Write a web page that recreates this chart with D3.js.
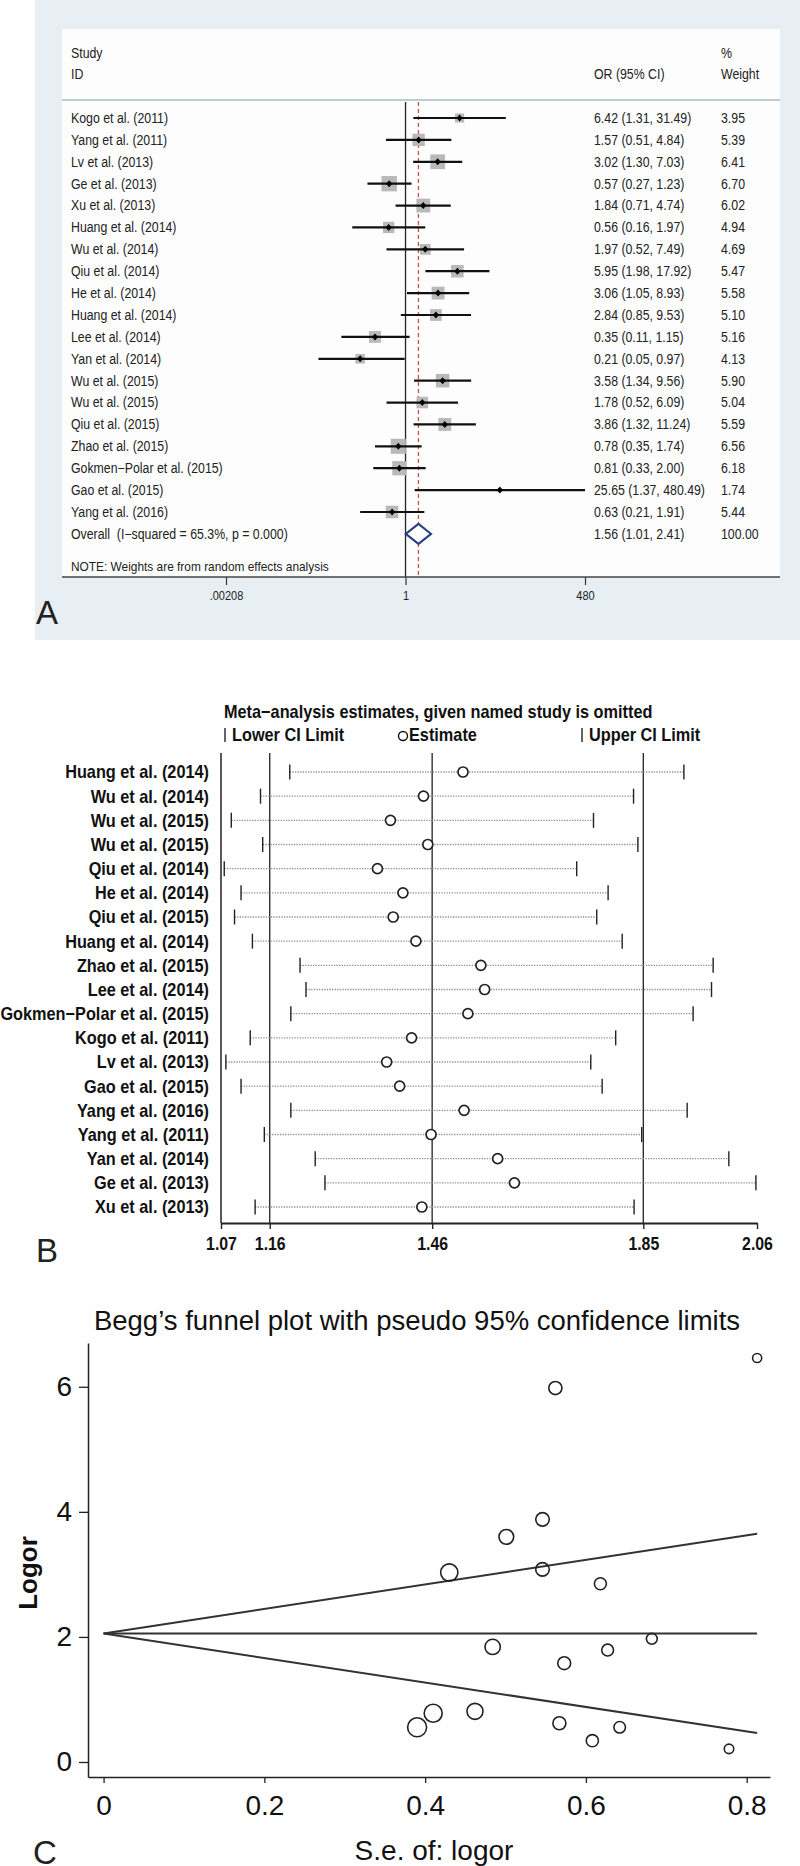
<!DOCTYPE html>
<html>
<head>
<meta charset="utf-8">
<script src="https://cdn.jsdelivr.net/npm/d3@7"></script>
<style>
  html, body { margin: 0; padding: 0; background: #ffffff; }
  svg { display: block; }
  text { white-space: pre; }
</style>
</head>
<body>
<svg id="fig" width="800" height="1866"></svg>
<script>
// ---------------- Panel A data (forest plot) ----------------
const studiesA = ["Kogo et al. (2011)", "Yang et al. (2011)", "Lv et al. (2013)", "Ge et al. (2013)",
  "Xu et al. (2013)", "Huang et al. (2014)", "Wu et al. (2014)", "Qiu et al. (2014)", "He et al. (2014)",
  "Huang et al. (2014)", "Lee et al. (2014)", "Yan et al. (2014)", "Wu et al. (2015)", "Wu et al. (2015)",
  "Qiu et al. (2015)", "Zhao et al. (2015)", "Gokmen\u2212Polar et al. (2015)", "Gao et al. (2015)", "Yang et al. (2016)"];
const orA    = [6.42, 1.57, 3.02, 0.57, 1.84, 0.56, 1.97, 5.95, 3.06, 2.84, 0.35, 0.21, 3.58, 1.78, 3.86, 0.78, 0.81, 25.65, 0.63];
const lowA   = [1.31, 0.51, 1.30, 0.27, 0.71, 0.16, 0.52, 1.98, 1.05, 0.85, 0.11, 0.05, 1.34, 0.52, 1.32, 0.35, 0.33, 1.37, 0.21];
const highA  = [31.49, 4.84, 7.03, 1.23, 4.74, 1.97, 7.49, 17.92, 8.93, 9.53, 1.15, 0.97, 9.56, 6.09, 11.24, 1.74, 2.00, 480.49, 1.91];
const weightA = [3.95, 5.39, 6.41, 6.70, 6.02, 4.94, 4.69, 5.47, 5.58, 5.10, 5.16, 4.13, 5.90, 5.04, 5.59, 6.56, 6.18, 1.74, 5.44];
const overallLabel = "Overall  (I\u2212squared = 65.3%, p = 0.000)";
const overallOR = [1.56, 1.01, 2.41];   // estimate, lower, upper
const overallWeight = "100.00";
const ticksA = [0.00208, 1, 480];
const tickLabelsA = [".00208", "1", "480"];

// ---------------- Panel B data (influence analysis) ----------------
const studiesB = ["Huang et al. (2014)", "Wu et al. (2014)", "Wu et al. (2015)", "Wu et al. (2015)",
  "Qiu et al. (2014)", "He et al. (2014)", "Qiu et al. (2015)", "Huang et al. (2014)", "Zhao et al. (2015)",
  "Lee et al. (2014)", "Gokmen\u2212Polar et al. (2015)", "Kogo et al. (2011)", "Lv et al. (2013)",
  "Gao et al. (2015)", "Yang et al. (2016)", "Yang et al. (2011)", "Yan et al. (2014)", "Ge et al. (2013)", "Xu et al. (2013)"];
const estB  = [1.517, 1.444, 1.383, 1.452, 1.359, 1.406, 1.388, 1.430, 1.550, 1.557, 1.526, 1.422, 1.376, 1.400, 1.519, 1.458, 1.581, 1.612, 1.441];
const lowB  = [1.197, 1.143, 1.089, 1.147, 1.076, 1.107, 1.095, 1.128, 1.216, 1.227, 1.199, 1.124, 1.079, 1.107, 1.199, 1.150, 1.244, 1.262, 1.133];
const highB = [1.925, 1.832, 1.758, 1.840, 1.727, 1.785, 1.764, 1.811, 1.979, 1.976, 1.942, 1.799, 1.753, 1.774, 1.931, 1.847, 2.008, 2.058, 1.833];
const refLinesB = [1.16, 1.46, 1.85];
const ticksB = [1.07, 1.16, 1.46, 1.85, 2.06];

// ---------------- Panel C data (Begg's funnel) ----------------
const seC = [0.813, 0.562, 0.546, 0.501, 0.430, 0.546, 0.618, 0.682, 0.484, 0.627, 0.573, 0.462, 0.410, 0.390, 0.567, 0.642, 0.608, 0.778];
const orC = [6.46, 5.98, 3.88, 3.60, 3.03, 3.08, 2.85, 1.97, 1.84, 1.79, 1.58, 0.81, 0.78, 0.555, 0.62, 0.555, 0.34, 0.21];
const funnelSE = [0, 0.813];
const funnelUpper = [2.055, 3.648];
const funnelMid = [2.055, 2.055];
const funnelLower = [2.055, 0.462];
const ticksCx = [0, 0.2, 0.4, 0.6, 0.8];
const ticksCy = [0, 2, 4, 6];

// ---------------- fonts ----------------
const SANS = "'Liberation Sans',Arial,Helvetica,sans-serif";
const SQ = 0.88;   // horizontal squeeze that imitates the condensed face of panels A and B

function squeeze(sel, f) {
  sel.each(function () {
    const L = this.getComputedTextLength();
    d3.select(this).attr("textLength", L * f).attr("lengthAdjust", "spacingAndGlyphs");
  });
}

const svg = d3.select("#fig");

// =================== PANEL A ===================
const gA = svg.append("g");
gA.append("rect").attr("x", 35).attr("y", 0).attr("width", 765).attr("height", 640).attr("fill", "#e7eff4");
gA.append("rect").attr("x", 62).attr("y", 29).attr("width", 718).attr("height", 548).attr("fill", "#fdfdfd");
gA.append("line").attr("x1", 62).attr("x2", 780).attr("y1", 100).attr("y2", 100)
  .attr("stroke", "#bccbd6").attr("stroke-width", 2);

const xA = d3.scaleLog().domain([0.00208, 480]).range([226, 585]);
const yA = d3.scaleLinear().domain([0, 18]).range([118, 512]);
const fmt2 = d3.format(".2f");
const FA = 14;

const headA = gA.append("g").attr("font-family", SANS).attr("font-size", FA).attr("fill", "#222");
headA.append("text").attr("class", "nA").attr("x", 71).attr("y", 53).attr("dy", "0.35em").text("Study");
headA.append("text").attr("class", "nA").attr("x", 71).attr("y", 74).attr("dy", "0.35em").text("ID");
headA.append("text").attr("class", "nA").attr("x", 594).attr("y", 74).attr("dy", "0.35em").text("OR (95% CI)");
headA.append("text").attr("class", "nA").attr("x", 721).attr("y", 53).attr("dy", "0.35em").text("%");
headA.append("text").attr("class", "nA").attr("x", 721).attr("y", 74).attr("dy", "0.35em").text("Weight");

// reference lines
gA.append("line").attr("x1", xA(1)).attr("x2", xA(1)).attr("y1", 102).attr("y2", 577)
  .attr("stroke", "#222").attr("stroke-width", 1.3);
gA.append("line").attr("x1", xA(overallOR[0])).attr("x2", xA(overallOR[0])).attr("y1", 102).attr("y2", 575)
  .attr("stroke", "#c4544a").attr("stroke-width", 1.3).attr("stroke-dasharray", "4,3");

const rowsA = gA.append("g").selectAll("g").data(studiesA).join("g");
rowsA.append("rect")
  .attr("x", (d, i) => xA(orA[i]) - weightA[i] * 1.15)
  .attr("y", (d, i) => yA(i) - weightA[i] * 1.15)
  .attr("width", (d, i) => weightA[i] * 2.3)
  .attr("height", (d, i) => weightA[i] * 2.3)
  .attr("fill", "#b9b9b9");
rowsA.append("line")
  .attr("x1", (d, i) => xA(lowA[i])).attr("x2", (d, i) => xA(highA[i]))
  .attr("y1", (d, i) => yA(i)).attr("y2", (d, i) => yA(i))
  .attr("stroke", "#111").attr("stroke-width", 2.2);
rowsA.append("path")
  .attr("d", (d, i) => { const x = xA(orA[i]), y = yA(i); return `M${x - 3},${y}L${x},${y - 3.5}L${x + 3},${y}L${x},${y + 3.5}Z`; })
  .attr("fill", "#000");
rowsA.append("text").attr("class", "nA").attr("x", 71).attr("y", (d, i) => yA(i)).attr("dy", "0.35em")
  .attr("font-family", SANS).attr("font-size", FA).attr("fill", "#222").text(d => d);
rowsA.append("text").attr("class", "nA").attr("x", 594).attr("y", (d, i) => yA(i)).attr("dy", "0.35em")
  .attr("font-family", SANS).attr("font-size", FA).attr("fill", "#222")
  .text((d, i) => `${fmt2(orA[i])} (${fmt2(lowA[i])}, ${fmt2(highA[i])})`);
rowsA.append("text").attr("class", "nA").attr("x", 721).attr("y", (d, i) => yA(i)).attr("dy", "0.35em")
  .attr("font-family", SANS).attr("font-size", FA).attr("fill", "#222")
  .text((d, i) => fmt2(weightA[i]));

// overall
const yO = yA(studiesA.length);
gA.append("path")
  .attr("d", `M${xA(overallOR[1])},${yO}L${xA(overallOR[0])},${yO - 10}L${xA(overallOR[2])},${yO}L${xA(overallOR[0])},${yO + 10}Z`)
  .attr("fill", "#fff").attr("stroke", "#27407e").attr("stroke-width", 2);
gA.append("text").attr("class", "nA").attr("x", 71).attr("y", yO).attr("dy", "0.35em").attr("font-family", SANS)
  .attr("font-size", FA).attr("fill", "#222").text(overallLabel);
gA.append("text").attr("class", "nA").attr("x", 594).attr("y", yO).attr("dy", "0.35em").attr("font-family", SANS)
  .attr("font-size", FA).attr("fill", "#222")
  .text(`${fmt2(overallOR[0])} (${fmt2(overallOR[1])}, ${fmt2(overallOR[2])})`);
gA.append("text").attr("class", "nA").attr("x", 721).attr("y", yO).attr("dy", "0.35em").attr("font-family", SANS)
  .attr("font-size", FA).attr("fill", "#222").text(overallWeight);
gA.append("text").attr("class", "nA").attr("x", 71).attr("y", 566).attr("dy", "0.35em").attr("font-family", SANS)
  .attr("font-size", 13.5).attr("fill", "#222").text("NOTE: Weights are from random effects analysis");

// axis A
gA.append("line").attr("x1", 62).attr("x2", 780).attr("y1", 577).attr("y2", 577)
  .attr("stroke", "#444").attr("stroke-width", 1.5);
const axA = gA.append("g").attr("transform", "translate(0,577)")
  .call(d3.axisBottom(xA).tickValues(ticksA).tickFormat((d, i) => tickLabelsA[i]).tickSize(8).tickPadding(6));
axA.select(".domain").remove();
axA.selectAll("line").attr("stroke", "#333").attr("stroke-width", 1.2);
axA.selectAll("text").attr("class", "nA").attr("font-family", SANS).attr("font-size", 12.5).attr("fill", "#222");
gA.append("text").attr("x", 36).attr("y", 624).attr("font-family", SANS).attr("font-size", 33)
  .attr("font-weight", 300).attr("fill", "#222").text("A");
squeeze(svg.selectAll("text.nA"), SQ);

// =================== PANEL B ===================
const gB = svg.append("g");
const xB = d3.scaleLinear().domain([1.07, 2.06]).range([221, 757]);
const yB = d3.scaleLinear().domain([0, 18]).range([772, 1207]);
const FB = 18.5;

gB.append("text").attr("class", "nB").attr("x", 224).attr("y", 712).attr("dy", "0.35em").attr("font-family", SANS)
  .attr("font-weight", "bold").attr("font-size", FB).attr("fill", "#111")
  .text("Meta\u2212analysis estimates, given named study is omitted");
const leg = gB.append("g").attr("font-family", SANS).attr("font-weight", "bold").attr("font-size", FB).attr("fill", "#111");
leg.append("line").attr("x1", 225).attr("x2", 225).attr("y1", 728).attr("y2", 742).attr("stroke", "#111").attr("stroke-width", 1.3);
leg.append("text").attr("class", "nB").attr("x", 232).attr("y", 735).attr("dy", "0.35em").text("Lower CI Limit");
leg.append("circle").attr("cx", 403).attr("cy", 736).attr("r", 4.5).attr("fill", "none").attr("stroke", "#111").attr("stroke-width", 1.4);
leg.append("text").attr("class", "nB").attr("x", 409).attr("y", 735).attr("dy", "0.35em").text("Estimate");
leg.append("line").attr("x1", 582).attr("x2", 582).attr("y1", 728).attr("y2", 742).attr("stroke", "#111").attr("stroke-width", 1.3);
leg.append("text").attr("class", "nB").attr("x", 589).attr("y", 735).attr("dy", "0.35em").text("Upper CI Limit");

// axis lines
gB.append("line").attr("x1", 221).attr("x2", 221).attr("y1", 753).attr("y2", 1223).attr("stroke", "#222").attr("stroke-width", 1.5);
gB.selectAll(".ref").data(refLinesB).join("line")
  .attr("x1", d => xB(d)).attr("x2", d => xB(d)).attr("y1", 753).attr("y2", 1223)
  .attr("stroke", "#222").attr("stroke-width", 1.3);

const rowsB = gB.append("g").selectAll("g").data(studiesB).join("g");
rowsB.append("line")
  .attr("x1", (d, i) => xB(lowB[i])).attr("x2", (d, i) => xB(highB[i]))
  .attr("y1", (d, i) => yB(i)).attr("y2", (d, i) => yB(i))
  .attr("stroke", "#8a8f96").attr("stroke-width", 1.3).attr("stroke-dasharray", "1.3,1.3");
rowsB.append("line")
  .attr("x1", (d, i) => xB(lowB[i])).attr("x2", (d, i) => xB(lowB[i]))
  .attr("y1", (d, i) => yB(i) - 7.5).attr("y2", (d, i) => yB(i) + 7.5)
  .attr("stroke", "#222").attr("stroke-width", 1.4);
rowsB.append("line")
  .attr("x1", (d, i) => xB(highB[i])).attr("x2", (d, i) => xB(highB[i]))
  .attr("y1", (d, i) => yB(i) - 7.5).attr("y2", (d, i) => yB(i) + 7.5)
  .attr("stroke", "#222").attr("stroke-width", 1.4);
rowsB.append("circle")
  .attr("cx", (d, i) => xB(estB[i])).attr("cy", (d, i) => yB(i)).attr("r", 5)
  .attr("fill", "#fff").attr("stroke", "#222").attr("stroke-width", 1.7);
rowsB.append("text").attr("class", "nB").attr("x", 209).attr("y", (d, i) => yB(i)).attr("dy", "0.35em")
  .attr("text-anchor", "end").attr("font-family", SANS).attr("font-weight", "bold")
  .attr("font-size", FB).attr("fill", "#111").text(d => d);

const axB = gB.append("g").attr("transform", "translate(0,1223)")
  .call(d3.axisBottom(xB).tickValues(ticksB).tickFormat(d3.format(".2f")).tickSize(6).tickPadding(8).tickSizeOuter(0));
axB.select(".domain").attr("stroke", "#222").attr("stroke-width", 2);
axB.selectAll("line").attr("stroke", "#222").attr("stroke-width", 1.4);
axB.selectAll("text").attr("class", "nB").attr("font-family", SANS).attr("font-weight", "bold").attr("font-size", 18).attr("fill", "#111");
gB.append("text").attr("x", 36).attr("y", 1262).attr("font-family", SANS).attr("font-size", 33)
  .attr("font-weight", 300).attr("fill", "#222").text("B");
squeeze(svg.selectAll("text.nB"), SQ);

// =================== PANEL C ===================
const gC = svg.append("g");
const xC = d3.scaleLinear().domain([-0.0194, 0.829]).range([88, 770]);
const yC = d3.scaleLinear().domain([-0.24, 6.70]).range([1777, 1343]);

gC.append("text").attr("x", 417).attr("y", 1320).attr("dy", "0.35em").attr("text-anchor", "middle")
  .attr("font-family", SANS).attr("font-size", 27.5).attr("fill", "#111")
  .text("Begg\u2019s funnel plot with pseudo 95% confidence limits");

const axCy = gC.append("g").attr("transform", "translate(88,0)")
  .call(d3.axisLeft(yC).tickValues(ticksCy).tickFormat(d3.format("d")).tickSize(9).tickPadding(7).tickSizeOuter(0));
axCy.select(".domain").attr("stroke", "#222").attr("stroke-width", 1.5);
axCy.selectAll("line").attr("stroke", "#222").attr("stroke-width", 1.3);
axCy.selectAll("text").attr("font-family", SANS).attr("font-size", 28).attr("fill", "#111");

const axCx = gC.append("g").attr("transform", "translate(0,1777)")
  .call(d3.axisBottom(xC).tickValues(ticksCx).tickFormat(d => d === 0 ? "0" : d3.format(".1f")(d)).tickSize(6).tickPadding(12).tickSizeOuter(0));
axCx.select(".domain").attr("stroke", "#222").attr("stroke-width", 1.5);
axCx.selectAll("line").attr("stroke", "#222").attr("stroke-width", 1.3);
axCx.selectAll("text").attr("font-family", SANS).attr("font-size", 28).attr("fill", "#111");

const lineC = d3.line().x(d => xC(d[0])).y(d => yC(d[1]));
[funnelUpper, funnelMid, funnelLower].forEach(arr => {
  gC.append("path").attr("d", lineC(funnelSE.map((s, i) => [s, arr[i]])))
    .attr("fill", "none").attr("stroke", "#333").attr("stroke-width", 2);
});

gC.append("g").selectAll("circle").data(seC).join("circle")
  .attr("cx", (d, i) => xC(d)).attr("cy", (d, i) => yC(orC[i]))
  .attr("r", d => 3.7 / d)
  .attr("fill", "none").attr("stroke", "#222").attr("stroke-width", 1.6);

gC.append("text").attr("transform", "translate(28,1573) rotate(-90)").attr("dy", "0.35em")
  .attr("text-anchor", "middle").attr("font-family", SANS).attr("font-weight", "bold")
  .attr("font-size", 26).attr("fill", "#111").text("Logor");
gC.append("text").attr("x", 434).attr("y", 1850).attr("dy", "0.35em").attr("text-anchor", "middle")
  .attr("font-family", SANS).attr("font-size", 28).attr("fill", "#111").text("S.e. of: logor");
gC.append("text").attr("x", 33).attr("y", 1864).attr("font-family", SANS).attr("font-size", 33)
  .attr("font-weight", 300).attr("fill", "#222").text("C");
</script>
</body>
</html>
